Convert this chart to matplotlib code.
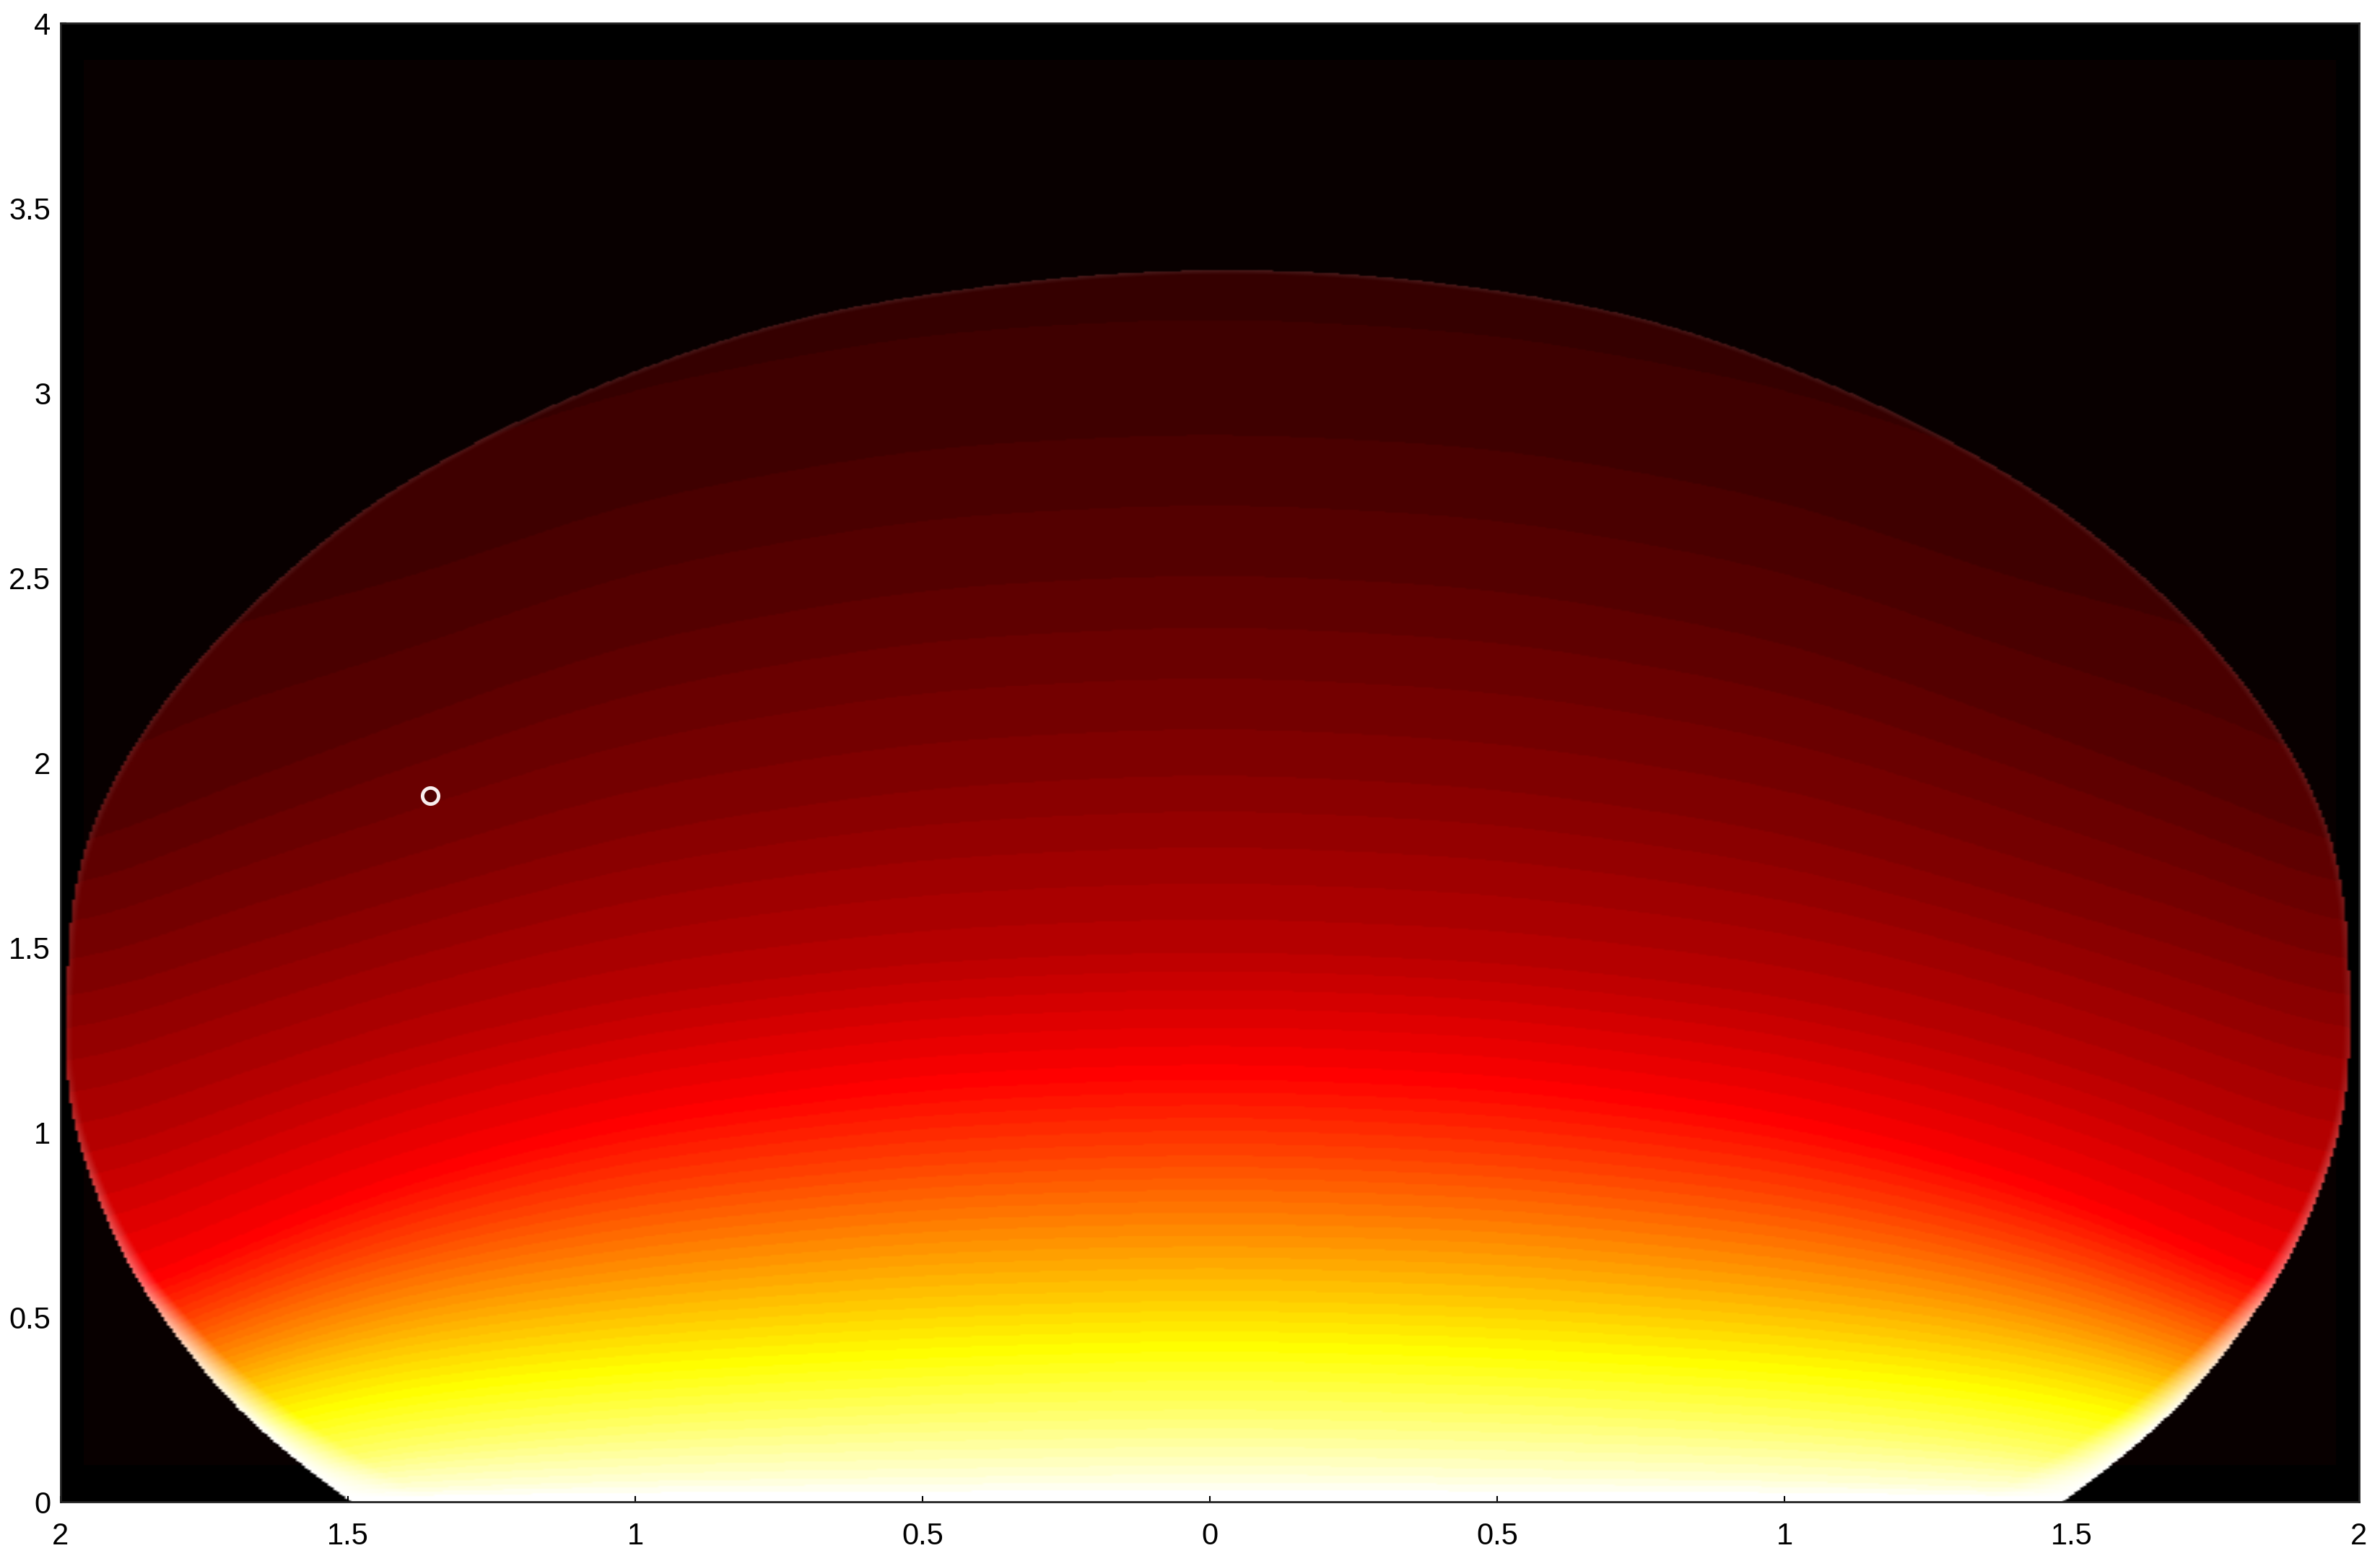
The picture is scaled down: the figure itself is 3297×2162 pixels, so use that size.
import matplotlib
matplotlib.use('Agg')
import matplotlib.pyplot as plt
import numpy as np
from matplotlib.patches import Rectangle

# outline of the lit region: half width per height
edge_y = [-0.1, 0, 0.1, 0.25, 0.36, 0.5, 0.62, 0.82, 1.02, 1.16, 1.4, 1.66, 1.81, 2.06, 2.21, 2.36, 2.52, 2.72, 2.85, 3.06, 3.2, 3.28, 3.33]
edge_left = [1.41, 1.49, 1.58, 1.69, 1.754, 1.82, 1.876, 1.932, 1.977, 1.989, 1.985, 1.975, 1.95, 1.866, 1.795, 1.71, 1.60, 1.44, 1.295, 0.995, 0.72, 0.42, 0.05]
edge_right = [1.40, 1.48, 1.57, 1.68, 1.745, 1.81, 1.866, 1.925, 1.97, 1.98, 1.98, 1.97, 1.95, 1.87, 1.80, 1.72, 1.61, 1.45, 1.31, 1.02, 0.76, 0.48, 0.12]

# iso-intensity curves: height of each level at the given |x|
iso_x = [0, 0.5, 1.0, 1.4, 1.7, 1.85, 2.0]
iso_levels = [1.0, 0.95, 0.85, 0.75, 0.67, 0.58, 0.46, 0.365, 0.263, 0.183, 0.126, 0.085, 0.07]
iso_heights = [
    [0.01, 0.01, 0.01, 0.006, 0.003, 0.002, 0.001],
    [0.08, 0.07, 0.06, 0.04, 0.02, 0.01, 0.005],
    [0.24, 0.23, 0.20, 0.15, 0.06, 0.03, 0.01],
    [0.41, 0.39, 0.35, 0.29, 0.19, 0.10, 0.05],
    [0.55, 0.53, 0.48, 0.41, 0.30, 0.20, 0.15],
    [0.72, 0.70, 0.63, 0.54, 0.40, 0.30, 0.24],
    [0.96, 0.93, 0.85, 0.72, 0.56, 0.45, 0.36],
    [1.17, 1.14, 1.04, 0.88, 0.70, 0.58, 0.50],
    [1.50, 1.47, 1.38, 1.24, 1.08, 1.00, 0.90],
    [2.00, 1.96, 1.84, 1.66, 1.52, 1.45, 1.35],
    [2.50, 2.46, 2.32, 2.10, 1.92, 1.85, 1.70],
    [3.00, 2.96, 2.82, 2.60, 2.50, 2.45, 2.20],
    [3.45, 3.40, 3.25, 3.05, 2.90, 2.80, 2.60],
]

# pale rim along the edge, strong at the bottom and faint towards the top
rim_y = [0, 0.2, 0.4, 0.6, 0.8, 1.0, 1.2, 2.0, 3.33]
rim_width = [0.11, 0.08, 0.05, 0.03, 0.02, 0.015, 0.012, 0.012, 0.012]
rim_white = [1.0, 1.0, 0.8, 0.45, 0.3, 0.2, 0.1, 0.1, 0.1]

marker_x = [-1.357]
marker_y = [1.91]

x_ticks = [-2, -1.5, -1, -0.5, 0, 0.5, 1, 1.5, 2]
x_labels = ['2', '1.5', '1', '0.5', '0', '0.5', '1', '1.5', '2']
y_ticks = [0, 0.5, 1, 1.5, 2, 2.5, 3, 3.5, 4]
y_labels = ['0', '0.5', '1', '1.5', '2', '2.5', '3', '3.5', '4']

plt.rcParams['font.family'] = ['Liberation Sans', 'DejaVu Sans']


def smooth(values, width, mode='edge'):
    # two passes of a box filter, to round off the hand-read table
    kernel = np.ones(width) / width
    for _ in range(2):
        values = np.convolve(np.pad(values, width, mode=mode), kernel, 'same')[width:-width]
    return values


xs = np.linspace(-2, 2, 801)
xs = (xs[:-1] + xs[1:]) / 2
ys = np.linspace(0, 4, 1025)
ys = (ys[:-1] + ys[1:]) / 2

# intensity field from the iso curves
curves = np.array([smooth(np.interp(np.abs(xs), iso_x, h), 61) for h in iso_heights])
field = np.zeros((len(ys), len(xs)))
for i in range(len(xs)):
    field[:, i] = np.interp(ys, np.maximum.accumulate(curves[:, i]), iso_levels)

cmap = plt.get_cmap('hot', 64)
rgb = cmap(np.clip(field, 0, 1))[:, :, :3]

# outline as radius per angle round the middle of the shape
cy = 1.3
ox = np.r_[-np.array(edge_left), np.array(edge_right)]
oy = np.r_[edge_y, edge_y] - cy
order = np.argsort(np.arctan2(oy, ox))
angle = np.arctan2(oy, ox)[order]
radius = np.hypot(ox, oy)[order]
fine = np.linspace(-np.pi, np.pi, 1441)
fine_r = smooth(np.interp(fine, angle, radius, period=2 * np.pi), 25, mode='wrap')

X, Y = np.meshgrid(xs, ys)
dist = np.hypot(X, Y - cy)
R = np.interp(np.arctan2(Y - cy, X), fine, fine_r)
inside = dist <= R

# rim towards white
rw = np.interp(Y, rim_y, rim_width)
ra = np.interp(Y, rim_y, rim_white)
t = (np.clip(1 - (R - dist) / rw, 0, 1) * ra)[:, :, None]
rgb = rgb * (1 - t) + t

rgba = np.dstack([rgb, inside.astype(float)])

fig = plt.figure(figsize=(32.97, 21.62), dpi=100)
ax = fig.add_axes([84 / 3297, 1 - 2080 / 2162, (3268 - 84) / 3297, (2080 - 32) / 2162])
ax.set_facecolor('black')

# background of the image is a hair lighter than the black strip round it
ax.add_patch(Rectangle((-1.96, 0.1), 3.92, 3.8, color='#080000', lw=0, zorder=0))
ax.imshow(rgba, extent=(-2, 2, 0, 4), origin='lower', aspect='auto', interpolation='bilinear', zorder=1)
ax.plot(marker_x, marker_y, 'o', mfc='#500000', mec='#f8eeee', ms=16, mew=3.5, zorder=2)

ax.set_xlim(-2, 2)
ax.set_ylim(0, 4)
ax.set_xticks(x_ticks)
ax.set_xticklabels(x_labels)
ax.set_yticks(y_ticks)
ax.set_yticklabels(y_labels)
ax.tick_params(direction='in', length=6, width=1.5, color='black', labelsize=30, pad=10)
ax.tick_params(axis='x', pad=20)
for s in ax.spines.values():
    s.set_linewidth(2)
    s.set_color('#222222')

fig.savefig('out.png', dpi=100, facecolor='white')
